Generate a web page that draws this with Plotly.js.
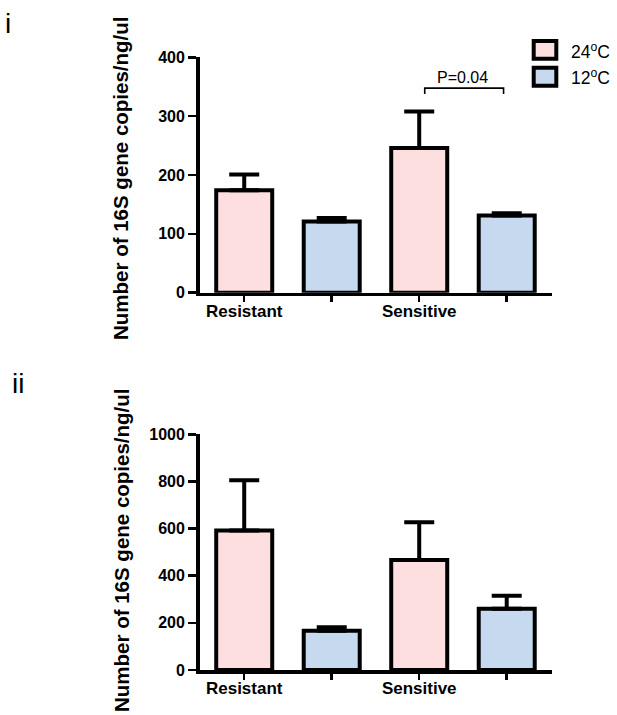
<!DOCTYPE html>
<html>
<head>
<meta charset="utf-8">
<script src="https://cdn.plot.ly/plotly-3.0.1.min.js"></script>
<style>html,body{margin:0;padding:0;background:#fff;}#chart{width:617px;height:715px;}</style>
</head>
<body>
<div id="chart"></div>
<script>
// ---- data ----
const groups = ['Resistant', 'Sensitive'];
const tempKeys = ['24', '12'];
const tempLabels = ['24<sup>o</sup>C', '12<sup>o</sup>C'];
const colors = ['#FDDFDF', '#C6D9EF'];

// panel i
const meanI24 = [174, 246];
const semI24 = [27, 62];
const meanI12 = [121, 131];
const semI12 = [6, 4];

// panel ii
const meanII24 = [592, 467];
const semII24 = [213, 160];
const meanII12 = [167, 260];
const semII12 = [14, 55];

const pValueText = 'P=0.04';
const yTitle = 'Number of 16S gene copies/ng/ul';
const panelLabels = ['i', 'ii'];

// ---- build ----
// column order: Resistant 24, Resistant 12, Sensitive 24, Sensitive 12
const cats = [];
groups.forEach(g => tempKeys.forEach(t => cats.push(g + '|' + t)));
const allIdx = cats.map((c, i) => i);
const labelIdx = allIdx.filter(i => cats[i].endsWith('|' + tempKeys[0]));
const otherIdx = allIdx.filter(i => !cats[i].endsWith('|' + tempKeys[0]));
const labelText = labelIdx.map(i => cats[i].split('|')[0]);

function barTrace(temp, means, sems, color, xa, ya) {
  return {
    type: 'bar',
    x: groups.map(g => cats.indexOf(g + '|' + temp)),
    y: means,
    width: 0.64,
    xaxis: xa, yaxis: ya,
    marker: {color: color, line: {color: '#000', width: 4}},
    error_y: {type: 'data', symmetric: false, array: sems, arrayminus: sems.map(() => 0),
              color: '#000', thickness: 4, width: 15},
    showlegend: false,
    hoverinfo: 'skip'
  };
}

const data = [
  barTrace(tempKeys[0], meanI24, semI24, colors[0], 'x', 'y'),
  barTrace(tempKeys[1], meanI12, semI12, colors[1], 'x', 'y'),
  barTrace(tempKeys[0], meanII24, semII24, colors[0], 'x2', 'y2'),
  barTrace(tempKeys[1], meanII12, semII12, colors[1], 'x2', 'y2')
];

const fontFam = 'Liberation Sans, Arial, sans-serif';
const xRange = [-0.51, 3.52];
function xAxis(anchor) {
  return {
    domain: [0.3235, 0.895], anchor: anchor, type: 'linear',
    range: xRange,
    tickmode: 'array', tickvals: labelIdx, ticktext: labelText,
    ticks: 'outside', ticklen: 6, tickwidth: 2.5, tickcolor: '#000',
    minor: {tickmode: 'array', tickvals: otherIdx, ticks: 'outside', ticklen: 6,
            tickwidth: 2.5, tickcolor: '#000', showgrid: false},
    ticklabelstandoff: -6,
    showline: true, linewidth: 3.5, linecolor: '#000',
    showgrid: false, zeroline: false,
    tickfont: {family: fontFam, size: 17, color: '#000', weight: 'bold'},
    fixedrange: true
  };
}
function yAxis(anchor, domain, range, dtick) {
  return {
    domain: domain, anchor: anchor, range: range, dtick: dtick, tick0: 0,
    ticks: 'outside', ticklen: 8, tickwidth: 2.5, tickcolor: '#000',
    showline: true, linewidth: 3.5, linecolor: '#000',
    showgrid: false, zeroline: false,
    tickfont: {family: fontFam, size: 16, color: '#000', weight: 'bold'},
    fixedrange: true
  };
}

const W = 617, H = 715;
const px = v => v / W, py = v => 1 - v / H;

const shapes = [
  // legend swatches
  {type: 'rect', xref: 'paper', yref: 'paper', x0: px(533.7), x1: px(556.3), y0: py(41), y1: py(58.7),
   fillcolor: colors[0], line: {color: '#000', width: 4}},
  {type: 'rect', xref: 'paper', yref: 'paper', x0: px(533.7), x1: px(556.3), y0: py(67.7), y1: py(85.7),
   fillcolor: colors[1], line: {color: '#000', width: 4}},
  // significance bracket (panel i, Sensitive 24 vs 12)
  {type: 'path', xref: 'x', yref: 'y', path: 'M2.063,337.5 L2.063,347.5 L2.964,347.5 L2.964,337.5',
   line: {color: '#000', width: 1.6}}
];

const annotations = [
  {xref: 'paper', yref: 'paper', x: px(121), y: py(178), text: yTitle, textangle: -90,
   showarrow: false, xanchor: 'center', yanchor: 'middle',
   font: {family: fontFam, size: 20.5, color: '#000', weight: 'bold'}},
  {xref: 'paper', yref: 'paper', x: px(121.5), y: py(550.5), text: yTitle, textangle: -90,
   showarrow: false, xanchor: 'center', yanchor: 'middle',
   font: {family: fontFam, size: 20.5, color: '#000', weight: 'bold'}},
  {xref: 'paper', yref: 'paper', x: px(3), y: py(24), text: panelLabels[0], showarrow: false,
   xanchor: 'left', yanchor: 'middle', font: {family: fontFam, size: 28, color: '#000'}},
  {xref: 'paper', yref: 'paper', x: px(10), y: py(383), text: panelLabels[1], showarrow: false,
   xanchor: 'left', yanchor: 'middle', font: {family: fontFam, size: 28, color: '#000'}},
  {xref: 'paper', yref: 'paper', x: px(569), y: py(51), text: tempLabels[0], showarrow: false,
   xanchor: 'left', yanchor: 'middle', font: {family: fontFam, size: 17.5, color: '#000'}},
  {xref: 'paper', yref: 'paper', x: px(569), y: py(77), text: tempLabels[1], showarrow: false,
   xanchor: 'left', yanchor: 'middle', font: {family: fontFam, size: 17.5, color: '#000'}},
  {xref: 'x', yref: 'y', x: 2.5, y: 365.5, text: pValueText, showarrow: false,
   xanchor: 'center', yanchor: 'middle', font: {family: fontFam, size: 16, color: '#000'}}
];

const layout = {
  width: W, height: H,
  margin: {l: 0, r: 0, t: 0, b: 0},
  paper_bgcolor: '#fff', plot_bgcolor: '#fff',
  barmode: 'overlay',
  showlegend: false,
  xaxis: xAxis('y'),
  yaxis: yAxis('x', [0.5906, 0.9199], [0, 400], 100),
  xaxis2: xAxis('y2'),
  yaxis2: yAxis('x2', [0.0629, 0.3926], [0, 1000], 200),
  shapes: shapes,
  annotations: annotations
};

Plotly.newPlot('chart', data, layout, {displayModeBar: false, staticPlot: true});
</script>
</body>
</html>
